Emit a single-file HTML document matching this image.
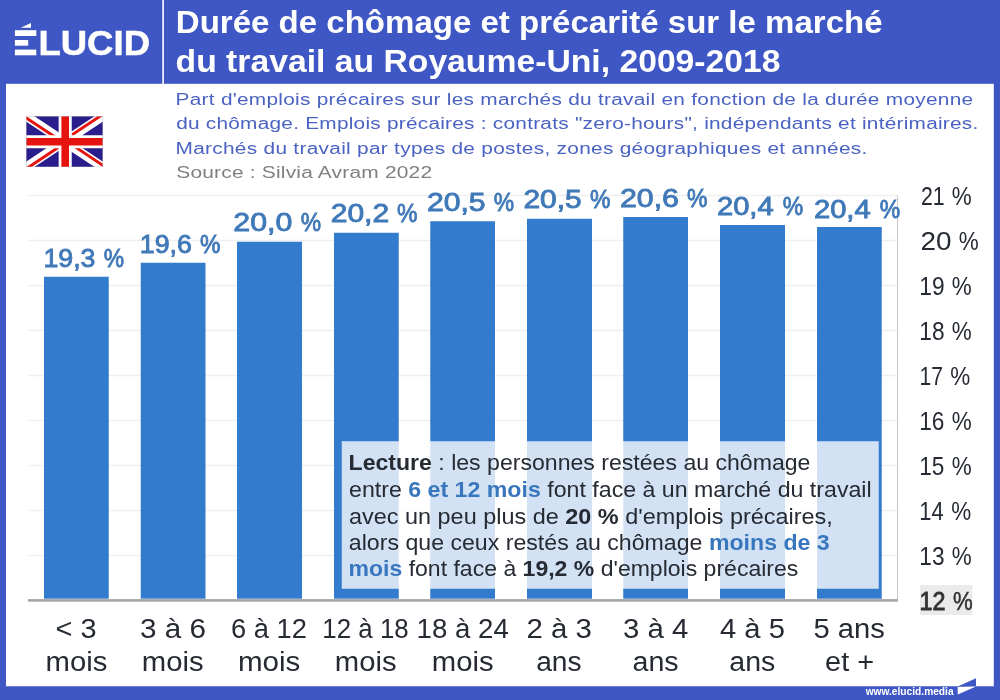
<!DOCTYPE html>
<html lang="fr"><head><meta charset="utf-8"><title>Durée de chômage et précarité sur le marché du travail au Royaume-Uni, 2009-2018</title>
<style>
html,body{margin:0;padding:0}
body{width:1000px;height:700px;position:relative;overflow:hidden;background:#3f57c4;font-family:"Liberation Sans", Arial, sans-serif}
.a{position:absolute}
.t{position:absolute;white-space:nowrap;line-height:1;margin:0;transform-origin:0 0}
.g{position:absolute;left:28px;width:869.5px;height:1.5px;background:#efefef}
.bar{position:absolute;background:#337bcc}
</style></head><body>
<svg class="a" style="left:0;top:0" width="1000" height="700" viewBox="0 0 1000 700">
<rect x="6" y="83.8" width="987.8" height="602.45" fill="#fff"/>
<rect x="162.3" y="0" width="1.6" height="84" fill="#fff"/>
<rect x="28" y="194.75" width="869.5" height="1.5" fill="#efefef"/>
<rect x="28" y="239.75" width="869.5" height="1.5" fill="#efefef"/>
<rect x="28" y="284.75" width="869.5" height="1.5" fill="#efefef"/>
<rect x="28" y="329.75" width="869.5" height="1.5" fill="#efefef"/>
<rect x="28" y="374.75" width="869.5" height="1.5" fill="#efefef"/>
<rect x="28" y="419.75" width="869.5" height="1.5" fill="#efefef"/>
<rect x="28" y="464.75" width="869.5" height="1.5" fill="#efefef"/>
<rect x="28" y="509.75" width="869.5" height="1.5" fill="#efefef"/>
<rect x="28" y="554.75" width="869.5" height="1.5" fill="#efefef"/>
<rect x="897" y="195" width="1" height="405" fill="#c9c9c9"/>
<rect x="44.00" y="276.75" width="64.75" height="321.95" fill="#337bcc"/>
<rect x="140.75" y="262.75" width="64.75" height="335.95" fill="#337bcc"/>
<rect x="237.00" y="241.75" width="65.00" height="356.95" fill="#337bcc"/>
<rect x="334.00" y="232.75" width="64.75" height="365.95" fill="#337bcc"/>
<rect x="430.25" y="221.25" width="64.75" height="377.45" fill="#337bcc"/>
<rect x="527.00" y="218.75" width="65.00" height="379.95" fill="#337bcc"/>
<rect x="623.25" y="217.00" width="64.75" height="381.70" fill="#337bcc"/>
<rect x="720.00" y="225.00" width="65.00" height="373.70" fill="#337bcc"/>
<rect x="817.00" y="227.00" width="64.75" height="371.70" fill="#337bcc"/>
<rect x="28" y="599.1" width="870" height="2.6" fill="#a6a6a6"/>
<rect x="920" y="585" width="52.5" height="30" fill="#ebebeb"/>
<rect x="341.75" y="441.25" width="537" height="147.5" fill="#fff" fill-opacity="0.78"/>
</svg>
<svg class="a" style="left:26px;top:116px" width="77" height="51.2" viewBox="0 0 60 40" preserveAspectRatio="none">
<clipPath id="fc"><path d="M30,20 h30 v20 z v20 h-30 z h-30 v-20 z v-20 h30 z"/></clipPath>
<rect width="60" height="40" fill="#2a1e8c"/>
<path d="M0,0 L60,40 M60,0 L0,40" stroke="#fff" stroke-width="7"/>
<path d="M0,0 L60,40 M60,0 L0,40" clip-path="url(#fc)" stroke="#e5140f" stroke-width="4.6"/>
<path d="M30.55,0 v40 M0,20.1 h60" stroke="#fff" stroke-width="10.2"/>
<path d="M30.55,0 v40 M0,20.1 h60" stroke="#e5140f" stroke-width="5.9"/>
<rect x="0.2" y="0.2" width="59.6" height="39.6" fill="none" stroke="#bbb" stroke-width="0.4"/>
</svg>
<svg class="a" style="left:956px;top:676px" width="24" height="22" viewBox="0 0 24 22"><polygon points="1.7,10.6 20,2.3 20,10.6" fill="#3f57c4"/><polygon points="1.7,11 1.7,18.4 20,10.4" fill="#fff"/></svg>
<div class="t" id="t1" style="left:175px;top:7px;font-size:31.60px;font-weight:700;color:#fff;transform:translate(0.78px,0.00px) scaleX(1.0455);">Durée de chômage et précarité sur le marché</div>
<div class="t" id="t2" style="left:175px;top:46px;font-size:31.60px;font-weight:700;color:#fff;transform:translate(0.57px,0.00px) scaleX(1.0667);">du travail au Royaume-Uni, 2009-2018</div>
<div class="t" id="s1" style="left:175px;top:91px;font-size:17.30px;font-weight:400;color:#4a62c2;letter-spacing:0.235px;transform:translate(0.53px,0.11px) scaleX(1.2042);">Part d'emplois précaires sur les marchés du travail en fonction de la durée moyenne</div>
<div class="t" id="s2" style="left:176px;top:115px;font-size:17.30px;font-weight:400;color:#4a62c2;letter-spacing:0.204px;transform:translate(0.14px,0.11px) scaleX(1.2043);">du chômage. Emplois précaires : contrats "zero-hours", indépendants et intérimaires.</div>
<div class="t" id="s3" style="left:175px;top:140px;font-size:17.30px;font-weight:400;color:#4a62c2;letter-spacing:0.238px;transform:translate(0.52px,0.31px) scaleX(1.2061);">Marchés du travail par types de postes, zones géographiques et années.</div>
<div class="t" id="s4" style="left:176px;top:164px;font-size:17.30px;font-weight:400;color:#808080;letter-spacing:0.163px;transform:translate(0.31px,0.11px) scaleX(1.2105);">Source : Silvia Avram 2022</div>
<div class="t" id="b0n" style="left:43px;top:244px;font-size:26.60px;font-weight:400;color:#4079b8;transform:translate(0.46px,0.83px) scaleX(1.0053);-webkit-text-stroke:0.9px #4079b8;">19,3</div>
<div class="t" id="b0p" style="left:103px;top:244px;font-size:26.60px;font-weight:400;color:#4079b8;transform:translate(0.79px,0.83px) scaleX(0.8593);-webkit-text-stroke:0.9px #4079b8;">%</div>
<div class="t" id="b1n" style="left:139px;top:231px;font-size:26.60px;font-weight:400;color:#4079b8;transform:translate(0.78px,0.08px) scaleX(1.0072);-webkit-text-stroke:0.9px #4079b8;">19,6</div>
<div class="t" id="b1p" style="left:200px;top:231px;font-size:26.60px;font-weight:400;color:#4079b8;transform:translate(0.06px,0.08px) scaleX(0.8642);-webkit-text-stroke:0.9px #4079b8;">%</div>
<div class="t" id="b2n" style="left:233px;top:209px;font-size:26.60px;font-weight:400;color:#4079b8;transform:translate(0.37px,0.33px) scaleX(1.1400);-webkit-text-stroke:0.9px #4079b8;">20,0</div>
<div class="t" id="b2p" style="left:300px;top:209px;font-size:26.60px;font-weight:400;color:#4079b8;transform:translate(0.79px,0.33px) scaleX(0.8593);-webkit-text-stroke:0.9px #4079b8;">%</div>
<div class="t" id="b3n" style="left:330px;top:199px;font-size:26.60px;font-weight:400;color:#4079b8;transform:translate(0.68px,0.83px) scaleX(1.1288);-webkit-text-stroke:0.9px #4079b8;">20,2</div>
<div class="t" id="b3p" style="left:397px;top:199px;font-size:26.60px;font-weight:400;color:#4079b8;transform:translate(0.06px,0.83px) scaleX(0.8642);-webkit-text-stroke:0.9px #4079b8;">%</div>
<div class="t" id="b4n" style="left:426px;top:188px;font-size:26.60px;font-weight:400;color:#4079b8;transform:translate(0.88px,0.83px) scaleX(1.1352);-webkit-text-stroke:0.9px #4079b8;">20,5</div>
<div class="t" id="b4p" style="left:493px;top:188px;font-size:26.60px;font-weight:400;color:#4079b8;transform:translate(0.79px,0.83px) scaleX(0.8593);-webkit-text-stroke:0.9px #4079b8;">%</div>
<div class="t" id="b5n" style="left:523px;top:186px;font-size:26.60px;font-weight:400;color:#4079b8;transform:translate(0.41px,0.08px) scaleX(1.1275);-webkit-text-stroke:0.9px #4079b8;">20,5</div>
<div class="t" id="b5p" style="left:590px;top:186px;font-size:26.60px;font-weight:400;color:#4079b8;transform:translate(0.06px,0.08px) scaleX(0.8642);-webkit-text-stroke:0.9px #4079b8;">%</div>
<div class="t" id="b6n" style="left:619px;top:184px;font-size:26.60px;font-weight:400;color:#4079b8;transform:translate(0.88px,0.83px) scaleX(1.1410);-webkit-text-stroke:0.9px #4079b8;">20,6</div>
<div class="t" id="b6p" style="left:687px;top:184px;font-size:26.60px;font-weight:400;color:#4079b8;transform:translate(0.06px,0.83px) scaleX(0.8642);-webkit-text-stroke:0.9px #4079b8;">%</div>
<div class="t" id="b7n" style="left:716px;top:193px;font-size:26.60px;font-weight:400;color:#4079b8;transform:translate(0.90px,0.08px) scaleX(1.0976);-webkit-text-stroke:0.9px #4079b8;">20,4</div>
<div class="t" id="b7p" style="left:782px;top:193px;font-size:26.60px;font-weight:400;color:#4079b8;transform:translate(0.64px,0.08px) scaleX(0.8638);-webkit-text-stroke:0.9px #4079b8;">%</div>
<div class="t" id="b8n" style="left:813px;top:196px;font-size:26.60px;font-weight:400;color:#4079b8;transform:translate(0.90px,0.08px) scaleX(1.0976);-webkit-text-stroke:0.9px #4079b8;">20,4</div>
<div class="t" id="b8p" style="left:879px;top:196px;font-size:26.60px;font-weight:400;color:#4079b8;transform:translate(0.64px,0.08px) scaleX(0.8638);-webkit-text-stroke:0.9px #4079b8;">%</div>
<div class="t" id="y0n" style="left:920px;top:183px;font-size:25.40px;font-weight:400;color:#262a33;transform:translate(0.88px,0.75px) scaleX(0.8389);">21</div>
<div class="t" id="y0p" style="left:951px;top:183px;font-size:25.40px;font-weight:400;color:#262a33;transform:translate(0.86px,0.75px) scaleX(0.8837);">%</div>
<div class="t" id="y1n" style="left:920px;top:228px;font-size:25.40px;font-weight:400;color:#262a33;transform:translate(0.55px,0.75px) scaleX(1.0985);">20</div>
<div class="t" id="y1p" style="left:958px;top:228px;font-size:25.40px;font-weight:400;color:#262a33;transform:translate(0.86px,0.75px) scaleX(0.8837);">%</div>
<div class="t" id="y2n" style="left:919px;top:273px;font-size:25.40px;font-weight:400;color:#262a33;transform:translate(0.28px,0.75px) scaleX(0.8946);">19</div>
<div class="t" id="y2p" style="left:951px;top:273px;font-size:25.40px;font-weight:400;color:#262a33;transform:translate(0.86px,0.75px) scaleX(0.8837);">%</div>
<div class="t" id="y3n" style="left:919px;top:318px;font-size:25.40px;font-weight:400;color:#262a33;transform:translate(0.28px,0.75px) scaleX(0.8942);">18</div>
<div class="t" id="y3p" style="left:951px;top:318px;font-size:25.40px;font-weight:400;color:#262a33;transform:translate(0.86px,0.75px) scaleX(0.8837);">%</div>
<div class="t" id="y4n" style="left:919px;top:363px;font-size:25.40px;font-weight:400;color:#262a33;transform:translate(0.48px,0.75px) scaleX(0.8324);">17</div>
<div class="t" id="y4p" style="left:950px;top:363px;font-size:25.40px;font-weight:400;color:#262a33;transform:translate(0.33px,0.75px) scaleX(0.8852);">%</div>
<div class="t" id="y5n" style="left:919px;top:408px;font-size:25.40px;font-weight:400;color:#262a33;transform:translate(0.28px,0.75px) scaleX(0.8916);">16</div>
<div class="t" id="y5p" style="left:951px;top:408px;font-size:25.40px;font-weight:400;color:#262a33;transform:translate(0.86px,0.75px) scaleX(0.8837);">%</div>
<div class="t" id="y6n" style="left:919px;top:453px;font-size:25.40px;font-weight:400;color:#262a33;transform:translate(0.28px,0.75px) scaleX(0.8911);">15</div>
<div class="t" id="y6p" style="left:951px;top:453px;font-size:25.40px;font-weight:400;color:#262a33;transform:translate(0.86px,0.75px) scaleX(0.8837);">%</div>
<div class="t" id="y7n" style="left:919px;top:498px;font-size:25.40px;font-weight:400;color:#262a33;transform:translate(0.23px,0.75px) scaleX(0.8633);">14</div>
<div class="t" id="y7p" style="left:951px;top:498px;font-size:25.40px;font-weight:400;color:#262a33;transform:translate(0.33px,0.75px) scaleX(0.8852);">%</div>
<div class="t" id="y8n" style="left:919px;top:543px;font-size:25.40px;font-weight:400;color:#262a33;transform:translate(0.28px,0.75px) scaleX(0.8928);">13</div>
<div class="t" id="y8p" style="left:951px;top:543px;font-size:25.40px;font-weight:400;color:#262a33;transform:translate(0.86px,0.75px) scaleX(0.8837);">%</div>
<div class="t" id="y9n" style="left:919px;top:588px;font-size:25.40px;font-weight:400;color:#333;transform:translate(0.46px,0.75px) scaleX(0.9157);-webkit-text-stroke:0.9px #333;">12</div>
<div class="t" id="y9p" style="left:952px;top:588px;font-size:25.40px;font-weight:400;color:#333;transform:translate(0.93px,0.75px) scaleX(0.8733);-webkit-text-stroke:0.5px #333;">%</div>
<div class="t" id="xa0" style="left:55px;top:613px;font-size:28.20px;font-weight:400;color:#262a33;transform:translate(0.50px,0.78px) scaleX(1.0240);">&lt; 3</div>
<div class="t" id="xb0" style="left:45px;top:647px;font-size:28.20px;font-weight:400;color:#262a33;transform:translate(0.55px,0.08px) scaleX(1.0378);">mois</div>
<div class="t" id="xa1" style="left:139px;top:613px;font-size:28.20px;font-weight:400;color:#262a33;transform:translate(0.93px,0.78px) scaleX(1.0520);">3 à 6</div>
<div class="t" id="xb1" style="left:141px;top:647px;font-size:28.20px;font-weight:400;color:#262a33;transform:translate(0.83px,0.08px) scaleX(1.0377);">mois</div>
<div class="t" id="xa2" style="left:231px;top:613px;font-size:28.20px;font-weight:400;color:#262a33;transform:translate(0.02px,0.78px) scaleX(0.9676);">6 à 12</div>
<div class="t" id="xb2" style="left:238px;top:647px;font-size:28.20px;font-weight:400;color:#262a33;transform:translate(0.00px,0.08px) scaleX(1.0484);">mois</div>
<div class="t" id="xa3" style="left:322px;top:613px;font-size:28.20px;font-weight:400;color:#262a33;transform:translate(0.31px,0.78px) scaleX(0.9184);">12 à 18</div>
<div class="t" id="xb3" style="left:334px;top:647px;font-size:28.20px;font-weight:400;color:#262a33;transform:translate(0.83px,0.08px) scaleX(1.0377);">mois</div>
<div class="t" id="xa4" style="left:416px;top:613px;font-size:28.20px;font-weight:400;color:#262a33;transform:translate(0.61px,0.78px) scaleX(0.9809);">18 à 24</div>
<div class="t" id="xb4" style="left:431px;top:647px;font-size:28.20px;font-weight:400;color:#262a33;transform:translate(0.83px,0.08px) scaleX(1.0377);">mois</div>
<div class="t" id="xa5" style="left:526px;top:613px;font-size:28.20px;font-weight:400;color:#262a33;transform:translate(0.48px,0.78px) scaleX(1.0443);">2 à 3</div>
<div class="t" id="xb5" style="left:536px;top:647px;font-size:28.20px;font-weight:400;color:#262a33;transform:translate(0.17px,0.08px) scaleX(0.9980);">ans</div>
<div class="t" id="xa6" style="left:622px;top:613px;font-size:28.20px;font-weight:400;color:#262a33;transform:translate(0.96px,0.78px) scaleX(1.0430);">3 à 4</div>
<div class="t" id="xb6" style="left:632px;top:647px;font-size:28.20px;font-weight:400;color:#262a33;transform:translate(0.55px,0.08px) scaleX(1.0139);">ans</div>
<div class="t" id="xa7" style="left:720px;top:613px;font-size:28.20px;font-weight:400;color:#262a33;transform:translate(0.05px,0.78px) scaleX(1.0347);">4 à 5</div>
<div class="t" id="xb7" style="left:729px;top:647px;font-size:28.20px;font-weight:400;color:#262a33;transform:translate(0.32px,0.08px) scaleX(1.0116);">ans</div>
<div class="t" id="xa8" style="left:813px;top:613px;font-size:28.20px;font-weight:400;color:#262a33;transform:translate(0.53px,0.78px) scaleX(1.0350);">5 ans</div>
<div class="t" id="xb8" style="left:825px;top:647px;font-size:28.20px;font-weight:400;color:#262a33;transform:translate(0.08px,0.08px) scaleX(1.0236);">et +</div>
<div class="t" id="l1" style="left:348px;top:452px;font-size:21.90px;font-weight:400;color:#262a33;transform:translate(0.53px,0.21px) scaleX(1.0545);"><b>Lecture</b> : les personnes restées au chômage</div>
<div class="t" id="l2" style="left:349px;top:479px;font-size:21.90px;font-weight:400;color:#262a33;transform:translate(0.04px,0.21px) scaleX(1.0578);">entre <b style="color:#3877bd">6 et 12 mois</b> font face à un marché du travail</div>
<div class="t" id="l3" style="left:349px;top:505px;font-size:21.90px;font-weight:400;color:#262a33;transform:translate(0.02px,0.96px) scaleX(1.0703);">avec un peu plus de <b>20 %</b> d'emplois précaires,</div>
<div class="t" id="l4" style="left:348px;top:532px;font-size:21.90px;font-weight:400;color:#262a33;transform:translate(0.85px,0.21px) scaleX(1.0567);">alors que ceux restés au chômage <b style="color:#3877bd">moins de 3</b></div>
<div class="t" id="l5" style="left:348px;top:558px;font-size:21.90px;font-weight:400;color:#262a33;transform:translate(0.52px,0.46px) scaleX(1.0518);"><b style="color:#3877bd">mois</b> font face à <b>19,2 %</b> d'emplois précaires</div>
<div class="t" id="f1" style="left:865px;top:685px;font-size:10.60px;font-weight:700;color:#fff;transform:translate(0.65px,0.98px) scaleX(0.9614);">www.elucid.media</div>
<div class="t" id="lgE" style="left:12px;top:25px;font-size:35.30px;font-weight:700;color:#3f57c4;transform:translate(0.59px,0.77px) scaleX(1.0714);">É</div>
<div class="t" id="lg" style="left:38px;top:25px;font-size:35.70px;font-weight:700;color:#fff;transform:translate(0.44px,0.73px) scaleX(1.0233);-webkit-text-stroke:0.5px #fff;">LUCID</div>
<svg class="a" style="left:10px;top:20px" width="30" height="40" viewBox="10 20 30 40"><rect x="14.9" y="30.2" width="21.4" height="5.8" fill="#fff"/><rect x="14.9" y="40" width="13.3" height="5.7" fill="#fff"/><rect x="14.9" y="49.6" width="21.4" height="5.7" fill="#fff"/><polygon points="20.7,27.8 31,22.9 31,27.8" fill="#fff"/></svg>
</body></html>
